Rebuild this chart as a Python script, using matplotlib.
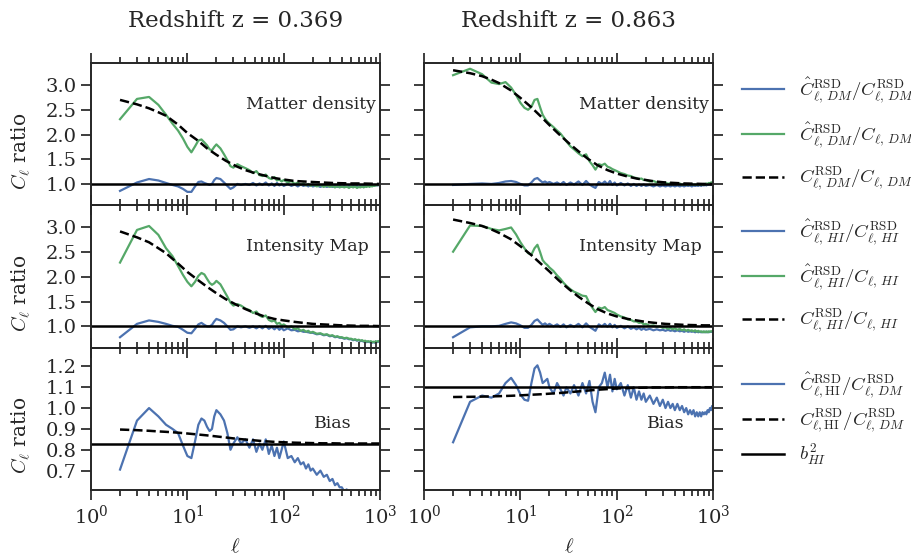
import matplotlib
matplotlib.use('Agg')
import matplotlib.pyplot as plt
from matplotlib.ticker import FormatStrFormatter

# multipole grid of the measured ratios and of the theory curves
ell = (list(range(2, 21))
       + [22, 24, 26, 28, 30, 33, 36, 40, 44, 48, 52, 56, 60, 65, 70, 75, 80, 85, 90, 95, 100]
       + list(range(110, 201, 10)) + list(range(220, 401, 20)) + list(range(425, 1001, 25)))
ell_th = [2, 3, 4, 5, 6, 8, 10, 13, 16, 20, 25, 32, 40, 50, 63, 80, 100,
          130, 160, 200, 250, 320, 400, 500, 630, 800, 1000]

redshifts = ['0.369', '0.863']

# --- matter density, z = 0.369
dm_rsd_z1 = [0.86, 1.03, 1.10, 1.07, 1.02, 0.98, 0.95, 0.90, 0.84, 0.84, 0.95, 1.04, 1.05, 1.02, 1.00, 0.98, 1.00, 1.08, 1.12,
             1.10, 1.03, 0.96, 0.90, 0.93, 1.00, 0.98, 1.00, 0.98, 1.02, 0.97, 1.01, 0.98, 1.03, 0.97, 1.01, 0.96, 1.02, 0.97, 1.00, 0.96,
             1.00, 0.96, 0.99, 0.95, 0.99, 0.96, 0.98, 0.95, 0.98, 0.95,
             0.97, 0.94, 0.97, 0.94, 0.96, 0.94, 0.96, 0.94, 0.96, 0.94,
             0.96, 0.94, 0.96, 0.94, 0.96, 0.95, 0.96, 0.94, 0.96, 0.95, 0.97, 0.95, 0.97, 0.96, 0.97, 0.96, 0.97, 0.96, 0.98, 0.97, 0.98, 0.97, 0.98, 0.99]
dm_real_z1 = [2.31, 2.72, 2.76, 2.60, 2.40, 2.22, 2.08, 1.92, 1.75, 1.64, 1.76, 1.88, 1.90, 1.84, 1.78, 1.70, 1.68, 1.75, 1.80,
              1.72, 1.60, 1.48, 1.36, 1.33, 1.40, 1.36, 1.32, 1.28, 1.22, 1.26, 1.18, 1.16, 1.19, 1.12, 1.10, 1.14, 1.07, 1.09, 1.05, 1.08,
              1.03, 1.06, 1.00, 1.03, 0.98, 1.01, 0.97, 1.00, 0.96, 0.99,
              0.95, 0.98, 0.94, 0.97, 0.94, 0.96, 0.93, 0.96, 0.93, 0.95,
              0.93, 0.95, 0.92, 0.95, 0.93, 0.95, 0.92, 0.94, 0.93, 0.95, 0.93, 0.95, 0.94, 0.96, 0.94, 0.96, 0.95, 0.97, 0.96, 0.98, 0.97, 0.99, 0.98, 1.00]
dm_theory_z1 = [2.70, 2.61, 2.53, 2.45, 2.38, 2.20, 2.03, 1.87, 1.72, 1.59, 1.47, 1.36, 1.28, 1.22, 1.17, 1.12, 1.09,
                1.06, 1.05, 1.04, 1.03, 1.02, 1.015, 1.01, 1.01, 1.005, 1.0]

# --- matter density, z = 0.863
dm_rsd_z2 = [0.98, 1.00, 1.01, 1.00, 1.02, 1.05, 1.06, 1.04, 1.00, 0.97, 0.97, 1.03, 1.10, 1.12, 1.07, 1.03, 1.05, 1.02, 1.04,
             1.00, 1.03, 0.99, 1.04, 0.98, 1.03, 0.99, 1.05, 0.98, 1.06, 0.99, 0.95, 0.92, 1.04, 1.00, 1.05, 0.99, 1.06, 0.98, 1.03, 0.97,
             1.02, 0.97, 1.01, 0.96, 1.00, 0.96, 0.99, 0.96, 0.99, 0.96,
             0.98, 0.95, 0.98, 0.95, 0.97, 0.95, 0.97, 0.95, 0.97, 0.95,
             0.97, 0.95, 0.97, 0.95, 0.97, 0.96, 0.97, 0.95, 0.97, 0.96, 0.97, 0.96, 0.98, 0.96, 0.98, 0.97, 0.98, 0.97, 0.99, 0.98, 0.99, 0.98, 1.00, 1.01]
dm_real_z2 = [3.20, 3.33, 3.22, 3.05, 3.02, 3.06, 2.95, 2.80, 2.64, 2.54, 2.50, 2.56, 2.70, 2.72, 2.55, 2.40, 2.32, 2.26, 2.22,
              2.15, 2.08, 2.02, 1.94, 1.86, 1.76, 1.70, 1.62, 1.56, 1.60, 1.46, 1.38, 1.29, 1.40, 1.38, 1.41, 1.35, 1.33, 1.30, 1.28, 1.26,
              1.22, 1.20, 1.17, 1.16, 1.13, 1.12, 1.10, 1.11, 1.08, 1.08,
              1.05, 1.06, 1.03, 1.04, 1.01, 1.03, 1.00, 1.02, 0.99, 1.01,
              0.99, 1.01, 0.98, 1.00, 0.98, 1.00, 0.98, 1.00, 0.98, 0.99, 0.98, 1.00, 0.98, 0.99, 0.98, 1.00, 0.99, 1.01, 1.00, 1.02, 1.01, 1.03, 1.03, 1.05]
dm_theory_z2 = [3.30, 3.24, 3.18, 3.11, 3.04, 2.89, 2.74, 2.55, 2.38, 2.19, 2.01, 1.82, 1.66, 1.51, 1.38, 1.28, 1.21,
                1.15, 1.11, 1.08, 1.05, 1.03, 1.02, 1.01, 1.005, 1.0, 1.0]

# --- intensity map, z = 0.369
hi_rsd_z1 = [0.78, 1.05, 1.12, 1.09, 1.05, 1.01, 0.99, 0.93, 0.87, 0.86, 0.95, 1.04, 1.07, 1.03, 1.00, 1.00, 1.03, 1.10, 1.15,
             1.12, 1.07, 1.00, 0.93, 0.94, 1.00, 0.98, 1.00, 0.97, 1.00, 0.96, 1.00, 0.96, 1.01, 0.95, 0.99, 0.94, 0.99, 0.93, 0.97, 0.92,
             0.96, 0.92, 0.93, 0.90, 0.91, 0.89, 0.89, 0.88, 0.87, 0.87,
             0.84, 0.85, 0.82, 0.83, 0.80, 0.81, 0.78, 0.79, 0.77, 0.77,
             0.75, 0.76, 0.74, 0.74, 0.72, 0.73, 0.71, 0.72, 0.70, 0.71, 0.69, 0.70, 0.68, 0.69, 0.68, 0.69, 0.67, 0.68, 0.67, 0.69, 0.68, 0.69, 0.69, 0.70]
hi_real_z1 = [2.29, 2.95, 3.03, 2.85, 2.58, 2.42, 2.22, 2.04, 1.90, 1.81, 1.90, 2.02, 2.08, 2.05, 1.96, 1.88, 1.84, 1.87, 1.92,
              1.85, 1.72, 1.60, 1.48, 1.42, 1.45, 1.42, 1.36, 1.33, 1.27, 1.30, 1.22, 1.19, 1.22, 1.13, 1.10, 1.12, 1.05, 1.07, 1.02, 1.04,
              0.98, 1.00, 0.94, 0.96, 0.91, 0.93, 0.89, 0.91, 0.87, 0.89,
              0.85, 0.86, 0.83, 0.84, 0.81, 0.82, 0.79, 0.80, 0.78, 0.78,
              0.76, 0.77, 0.75, 0.75, 0.73, 0.74, 0.72, 0.73, 0.71, 0.72, 0.70, 0.71, 0.69, 0.70, 0.69, 0.70, 0.68, 0.69, 0.68, 0.70, 0.69, 0.70, 0.70, 0.71]
hi_theory_z1 = [2.92, 2.80, 2.70, 2.58, 2.48, 2.27, 2.10, 1.93, 1.80, 1.67, 1.55, 1.44, 1.35, 1.27, 1.20, 1.15, 1.12,
                1.09, 1.07, 1.05, 1.04, 1.03, 1.02, 1.015, 1.01, 1.01, 1.005]

# --- intensity map, z = 0.863
hi_rsd_z2 = [0.78, 0.98, 1.00, 1.00, 1.01, 1.05, 1.08, 1.06, 1.02, 0.97, 0.97, 1.03, 1.11, 1.14, 1.08, 1.03, 1.06, 1.02, 1.05,
             1.00, 1.04, 0.99, 1.04, 0.98, 1.03, 0.99, 1.05, 0.98, 1.06, 0.99, 0.95, 0.91, 1.04, 1.00, 1.05, 0.99, 1.05, 0.98, 1.03, 0.97,
             1.01, 0.96, 1.00, 0.95, 0.98, 0.94, 0.97, 0.93, 0.96, 0.93,
             0.95, 0.92, 0.94, 0.92, 0.93, 0.91, 0.93, 0.91, 0.92, 0.90,
             0.92, 0.90, 0.91, 0.89, 0.91, 0.89, 0.90, 0.89, 0.90, 0.88, 0.90, 0.88, 0.89, 0.88, 0.89, 0.88, 0.89, 0.88, 0.89, 0.88, 0.89, 0.89, 0.89, 0.90]
hi_real_z2 = [2.51, 3.04, 3.03, 2.97, 2.94, 2.97, 3.00, 2.86, 2.70, 2.58, 2.48, 2.45, 2.58, 2.65, 2.50, 2.34, 2.28, 2.24, 2.19,
              2.12, 2.03, 1.96, 1.88, 1.82, 1.75, 1.70, 1.66, 1.62, 1.61, 1.47, 1.37, 1.29, 1.38, 1.36, 1.39, 1.33, 1.31, 1.29, 1.27, 1.24,
              1.20, 1.18, 1.14, 1.13, 1.10, 1.10, 1.07, 1.08, 1.04, 1.05,
              1.01, 1.02, 0.99, 1.00, 0.97, 0.98, 0.95, 0.97, 0.94, 0.96,
              0.93, 0.95, 0.92, 0.94, 0.91, 0.93, 0.91, 0.92, 0.90, 0.92, 0.89, 0.91, 0.89, 0.90, 0.88, 0.90, 0.88, 0.90, 0.88, 0.90, 0.89, 0.90, 0.90, 0.91]
hi_theory_z2 = [3.16, 3.09, 3.03, 2.96, 2.89, 2.76, 2.62, 2.44, 2.28, 2.11, 1.93, 1.75, 1.60, 1.47, 1.35, 1.26, 1.20,
                1.15, 1.12, 1.09, 1.07, 1.05, 1.04, 1.03, 1.025, 1.02, 1.02]

# --- bias
bias_rsd_z1 = [0.705, 0.94, 1.00, 0.96, 0.92, 0.90, 0.88, 0.82, 0.77, 0.76, 0.84, 0.92, 0.95, 0.94, 0.91, 0.89, 0.90, 0.96, 0.99,
               0.97, 0.94, 0.88, 0.80, 0.83, 0.86, 0.83, 0.85, 0.81, 0.85, 0.79, 0.83, 0.80, 0.85, 0.78, 0.82, 0.77, 0.81, 0.76, 0.80, 0.84,
               0.76, 0.77, 0.74, 0.76, 0.73, 0.74, 0.71, 0.73, 0.70, 0.71,
               0.68, 0.70, 0.67, 0.68, 0.65, 0.66, 0.63, 0.64, 0.62, 0.62,
               0.60, 0.61, 0.59, 0.59, 0.58, 0.58, 0.57, 0.57, 0.56, 0.56, 0.55, 0.55, 0.54, 0.54, 0.53, 0.53, 0.52, 0.52, 0.51, 0.51, 0.50, 0.50, 0.49, 0.49]
bias_theory_z1 = [0.897, 0.894, 0.891, 0.888, 0.886, 0.882, 0.878, 0.873, 0.869, 0.864, 0.859, 0.853, 0.849, 0.845, 0.841, 0.838, 0.836,
                  0.834, 0.833, 0.832, 0.831, 0.831, 0.830, 0.830, 0.830, 0.830, 0.830]
bias_rsd_z2 = [0.836, 1.03, 1.06, 1.05, 1.07, 1.12, 1.145, 1.11, 1.065, 1.04, 1.035, 1.12, 1.19, 1.205, 1.17, 1.12, 1.13, 1.14, 1.10,
               1.07, 1.12, 1.09, 1.06, 1.10, 1.07, 1.11, 1.06, 1.12, 1.07, 1.13, 1.03, 0.98, 1.10, 1.12, 1.17, 1.10, 1.16, 1.08, 1.14, 1.09,
               1.12, 1.06, 1.11, 1.05, 1.10, 1.04, 1.08, 1.04, 1.07, 1.03,
               1.06, 1.02, 1.05, 1.01, 1.04, 1.00, 1.03, 1.00, 1.02, 0.99,
               1.02, 0.99, 1.01, 0.98, 1.00, 0.97, 0.99, 0.97, 0.99, 0.96, 0.98, 0.96, 0.98, 0.96, 0.98, 0.97, 0.98, 0.97, 0.99, 0.98, 1.00, 0.99, 1.01, 1.00]
bias_theory_z2 = [1.053, 1.054, 1.055, 1.056, 1.057, 1.059, 1.061, 1.064, 1.066, 1.069, 1.072, 1.076, 1.080, 1.084, 1.088, 1.091, 1.094,
                  1.096, 1.097, 1.098, 1.099, 1.099, 1.10, 1.10, 1.10, 1.10, 1.10]
b2_hi = [0.83, 1.10]

blue = '#4C72B0'
green = '#55A868'
dark = '#262626'

plt.rcParams['font.family'] = 'serif'
plt.rcParams['font.serif'] = ['DejaVu Serif']
plt.rcParams['mathtext.fontset'] = 'cm'
plt.rcParams['text.color'] = dark
plt.rcParams['axes.labelcolor'] = dark
plt.rcParams['xtick.color'] = dark
plt.rcParams['ytick.color'] = dark
plt.rcParams['axes.edgecolor'] = dark

fig, axes = plt.subplots(3, 2, figsize=(9.12, 5.56), dpi=100, sharex=True)
plt.subplots_adjust(left=0.0998, right=0.782, bottom=0.1187, top=0.887, hspace=0.0, wspace=0.152)

rows = [
    ('Matter density', 'DM', [dm_rsd_z1, dm_rsd_z2], [dm_real_z1, dm_real_z2], [dm_theory_z1, dm_theory_z2]),
    ('Intensity Map', 'HI', [hi_rsd_z1, hi_rsd_z2], [hi_real_z1, hi_real_z2], [hi_theory_z1, hi_theory_z2]),
]

for r, (name, tr, rsd, real, theory) in enumerate(rows):
    for c in range(2):
        ax = axes[r, c]
        ax.plot(ell, rsd[c], color=blue, lw=1.6,
                label=r'$\hat{C}^{\rm RSD}_{\ell,\,%s}/C^{\rm RSD}_{\ell,\,%s}$' % (tr, tr))
        ax.plot(ell, real[c], color=green, lw=1.6,
                label=r'$\hat{C}^{\rm RSD}_{\ell,\,%s}/C_{\ell,\,%s}$' % (tr, tr))
        ax.plot(ell_th, theory[c], 'k--', lw=1.8,
                label=r'$C^{\rm RSD}_{\ell,\,%s}/C_{\ell,\,%s}$' % (tr, tr))
        ax.axhline(1.0, color='k', lw=1.8)
        ax.set_ylim(0.57, 3.45)
        ax.set_yticks([1.0, 1.5, 2.0, 2.5, 3.0])
        ax.text(0.535, 0.71, name, transform=ax.transAxes, fontsize=12.5, va='center')

bias_rsd = [bias_rsd_z1, bias_rsd_z2]
bias_theory = [bias_theory_z1, bias_theory_z2]
for c in range(2):
    ax = axes[2, c]
    ax.plot(ell, bias_rsd[c], color=blue, lw=1.6,
            label=r'$\hat{C}^{\rm RSD}_{\ell,\rm HI}/C^{\rm RSD}_{\ell,\,DM}$')
    ax.plot(ell_th, bias_theory[c], 'k--', lw=1.8,
            label=r'$C^{\rm RSD}_{\ell,\rm HI}/C^{\rm RSD}_{\ell,\,DM}$')
    ax.axhline(b2_hi[c], color='k', lw=1.8, label=r'$b^2_{HI}$')
    ax.set_ylim(0.607, 1.29)
    ax.set_yticks([0.7, 0.8, 0.9, 1.0, 1.1, 1.2])
    ax.text(0.77, 0.465, 'Bias', transform=ax.transAxes, fontsize=12.5, va='center')
    ax.set_xlabel(r'$\ell$', fontsize=15, labelpad=7)

for ax in axes.flat:
    ax.set_xscale('log')
    ax.set_xlim(1, 1000)
    ax.set_facecolor('none')
    ax.yaxis.set_major_formatter(FormatStrFormatter('%.1f'))
    ax.tick_params(which='both', direction='out', top=True, right=True, width=1.25, labelsize=14)
    ax.tick_params(which='major', length=7)
    ax.tick_params(which='minor', length=4)
    for s in ax.spines.values():
        s.set_linewidth(1.4)

spacing = [0.8, 0.8, 0.36]
for r in range(3):
    axes[r, 0].set_ylabel(r'$C_\ell$ ratio', fontsize=14.5)
    axes[r, 0].yaxis.set_label_coords(-0.2, 0.38)
    axes[r, 1].tick_params(labelleft=False)
    axes[r, 1].legend(loc='center left', bbox_to_anchor=(1.075, 0.5), frameon=False,
                      fontsize=13.5, handlelength=2.2, handletextpad=0.8, labelspacing=spacing[r],
                      borderaxespad=0)

for c in range(2):
    axes[0, c].set_title('Redshift z = ' + redshifts[c], fontsize=16.5, pad=26)

plt.savefig('out.png', dpi=100)
